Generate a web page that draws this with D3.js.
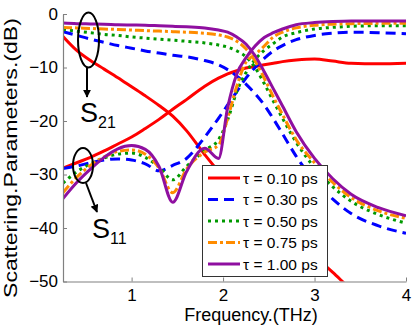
<!DOCTYPE html>
<html>
<head>
<meta charset="utf-8">
<script src="https://cdn.jsdelivr.net/npm/d3@7"></script>
<style>
  html, body { margin: 0; padding: 0; background: #fff; }
  svg { display: block; font-family: "Liberation Sans", Arial, sans-serif; }
</style>
</head>
<body>
<svg id="viz" width="415" height="327"></svg>
<script>
const WIDTH = 415;
const HEIGHT = 327;
const MARGIN = { top: 14, right: 9, bottom: 45.5, left: 63 };

// frequency grid (THz)
const freq = [0.25, 0.4, 0.55, 0.7, 0.85, 1.0, 1.15, 1.3, 1.45, 1.6, 1.8, 1.95, 2.05,
              2.15, 2.25, 2.35, 2.45, 2.55, 2.65, 2.8, 3.0, 3.2, 3.4, 3.7, 4.0];

const tauLabels = ["τ = 0.10 ps", "τ = 0.30 ps", "τ = 0.50 ps", "τ = 0.75 ps", "τ = 1.00 ps"];

// S21 (dB), one array per tau
const s21_010 = [-4.2, -6.8, -8.7, -10.3, -11.9, -13.6, -15.3, -17.1, -19.1, -21.8, -26.3, -29.4, -31.2,
                 -33.0, -34.7, -36.3, -37.8, -39.3, -40.7, -42.7, -45.3, -48.3, -51.5, -55, -58];
const s21_030 = [-3.3, -4.0, -4.7, -5.3, -5.9, -6.4, -6.9, -7.3, -7.7, -8.0, -8.7, -9.5, -10.4,
                 -11.6, -13.1, -14.9, -17.0, -19.6, -22.4, -26.6, -31.2, -34.6, -37.3, -39.6, -41.0];
const s21_050 = [-2.9, -3.2, -3.5, -3.8, -4.0, -4.3, -4.5, -4.7, -4.9, -5.1, -5.4, -5.8, -6.2,
                 -6.9, -8.0, -10.0, -13.0, -16.3, -19.5, -24.0, -28.7, -32.3, -35.0, -37.5, -39.1];
const s21_075 = [-2.5, -2.6, -2.7, -2.8, -2.9, -3.0, -3.1, -3.2, -3.3, -3.4, -3.6, -3.9, -4.3,
                 -5.1, -6.5, -8.8, -12.0, -15.5, -18.8, -23.5, -27.8, -31.5, -34.3, -36.8, -38.2];
const s21_100 = [-1.7, -1.8, -1.85, -1.9, -2.0, -2.05, -2.1, -2.2, -2.3, -2.4, -2.6, -3.0, -3.4,
                 -4.3, -5.6, -7.8, -10.8, -14.0, -17.2, -22.0, -27.0, -30.8, -33.7, -36.2, -37.7];

// S11 (dB), one array per tau
const s11_010 = [-28.8, -27.8, -26.8, -25.6, -24.3, -23.0, -21.4, -19.7, -17.8, -16.0, -13.5, -12.0, -11.2,
                 -10.6, -10.1, -9.8, -9.5, -9.2, -8.9, -8.6, -8.4, -8.8, -9.2, -9.3, -9.2];
const s11_030 = [-28.9, -28.4, -27.8, -27.3, -27.1, -27.3, -28.0, -29.3, -28.3, -27.0, -23.0, -19.5, -17.0,
                 -14.5, -12.0, -10.0, -8.3, -6.9, -5.9, -4.8, -4.0, -3.6, -3.4, -3.5, -3.7];
const s11_050 = [-31.6, -29.5, -28.0, -26.9, -26.2, -26.0, -26.8, -28.6, -31.0, -28.5, -25.5, -23.5, -19.8,
                 -14.5, -11.0, -8.5, -6.8, -5.5, -4.3, -3.5, -2.8, -2.5, -2.3, -2.2, -2.2];
const s11_075 = [-33.4, -30.5, -28.3, -26.7, -25.7, -25.4, -26.2, -28.8, -33.4, -29.0, -25.8, -24.5, -19.5,
                 -13.5, -9.0, -7.6, -6.0, -4.3, -3.4, -2.6, -2.1, -1.9, -1.8, -1.75, -1.75];
const s11_100 = [-34.5, -31.5, -29.0, -26.8, -25.2, -24.6, -25.3, -28.5, -35.2, -29.5, -25.1, -27.0, -17.5,
                 -11.2, -8.2, -6.0, -4.4, -3.5, -2.8, -2.0, -1.6, -1.4, -1.3, -1.3, -1.3];

const xTicks = [1, 2, 3, 4];
const yTicks = [0, -10, -20, -30, -40, -50];

// style per tau (same order as tauLabels)
const styles = [
  { color: "#ff0000", dash: null },
  { color: "#0000ff", dash: "10,6" },
  { color: "#009900", dash: "3,4" },
  { color: "#ff8c00", dash: "9,3,3,3" },
  { color: "#8f0fa0", dash: null }
];

const series = [
  { s21: s21_010, s11: s11_010 },
  { s21: s21_030, s11: s11_030 },
  { s21: s21_050, s11: s11_050 },
  { s21: s21_075, s11: s11_075 },
  { s21: s21_100, s11: s11_100 }
];

const svg = d3.select("#viz");
const innerW = WIDTH - MARGIN.left - MARGIN.right;
const innerH = HEIGHT - MARGIN.top - MARGIN.bottom;

const x = d3.scaleLinear().domain([0.25, 4]).range([MARGIN.left, MARGIN.left + innerW]);
const y = d3.scaleLinear().domain([-50, 0]).range([MARGIN.top + innerH, MARGIN.top]);

svg.append("defs").append("clipPath").attr("id", "plotclip")
  .append("rect")
  .attr("x", MARGIN.left).attr("y", MARGIN.top)
  .attr("width", innerW).attr("height", innerH);

const line = d3.line()
  .x((d, i) => x(freq[i]))
  .y(d => y(d))
  .curve(d3.curveMonotoneX);

const lines = svg.append("g").attr("clip-path", "url(#plotclip)");
series.forEach((s, i) => {
  [s.s21, s.s11].forEach(vals => {
    lines.append("path")
      .attr("d", line(vals))
      .attr("fill", "none")
      .attr("stroke", styles[i].color)
      .attr("stroke-width", 3)
      .attr("stroke-dasharray", styles[i].dash);
  });
});

// axes (only left + bottom, ticks pointing in)
const axisColor = "#808080";
const gx = svg.append("g")
  .attr("transform", `translate(0,${MARGIN.top + innerH})`)
  .call(d3.axisBottom(x).tickValues(xTicks).tickFormat(d3.format("d"))
    .tickSizeInner(-4).tickSizeOuter(0).tickPadding(7));
const gy = svg.append("g")
  .attr("transform", `translate(${MARGIN.left},0)`)
  .call(d3.axisLeft(y).tickValues(yTicks).tickFormat(d3.format("d"))
    .tickSizeInner(-4).tickSizeOuter(0).tickPadding(5));

[gx, gy].forEach(g => {
  g.select(".domain").attr("stroke", axisColor).attr("stroke-width", 1.2);
  g.selectAll(".tick line").attr("stroke", axisColor);
  g.selectAll(".tick text").attr("fill", "#000").attr("font-size", 17)
    .attr("font-family", "Liberation Sans, Arial, sans-serif");
});

// axis titles
svg.append("text")
  .attr("x", 251).attr("y", 321)
  .attr("text-anchor", "middle")
  .attr("font-size", 18)
  .text("Frequency.(THz)");

svg.append("text")
  .attr("transform", "translate(17,158) rotate(-90)")
  .attr("text-anchor", "middle")
  .attr("font-size", 18.5)
  .attr("textLength", 280)
  .attr("lengthAdjust", "spacingAndGlyphs")
  .text("Scattering.Parameters.(dB)");

// legend
const legend = svg.append("g");
legend.append("rect")
  .attr("x", 202.5).attr("y", 165.5)
  .attr("width", 125).attr("height", 111)
  .attr("fill", "#fff").attr("stroke", "#333").attr("stroke-width", 1);

tauLabels.forEach((lab, i) => {
  const ly = 178 + i * 21.5;
  legend.append("line")
    .attr("x1", 208).attr("x2", 240).attr("y1", ly).attr("y2", ly)
    .attr("stroke", styles[i].color).attr("stroke-width", 3)
    .attr("stroke-dasharray", styles[i].dash);
  legend.append("text")
    .attr("x", 243).attr("y", ly + 5.5)
    .attr("font-size", 15.5)
    .text(lab);
});

// annotations
svg.append("defs").append("marker")
  .attr("id", "arrow").attr("viewBox", "0 0 10 10")
  .attr("refX", 9).attr("refY", 5)
  .attr("markerWidth", 4).attr("markerHeight", 4)
  .attr("markerUnits", "strokeWidth")
  .attr("orient", "auto")
  .append("path").attr("d", "M0,0 L10,5 L0,10 Z").attr("fill", "#000");

const notes = svg.append("g").attr("fill", "none").attr("stroke", "#000").attr("stroke-width", 2);
notes.append("ellipse").attr("cx", 88.5).attr("cy", 40).attr("rx", 10.5).attr("ry", 27.5);
notes.append("line").attr("x1", 87).attr("y1", 68).attr("x2", 87).attr("y2", 97)
  .attr("marker-end", "url(#arrow)");
notes.append("ellipse").attr("cx", 83).attr("cy", 165.5).attr("rx", 10).attr("ry", 17.5);
notes.append("line").attr("x1", 86).attr("y1", 183).attr("x2", 97).attr("y2", 212)
  .attr("marker-end", "url(#arrow)");

function sLabel(xp, yp, sub) {
  const t = svg.append("text").attr("x", xp).attr("y", yp).attr("font-size", 27);
  t.append("tspan").text("S");
  t.append("tspan").attr("font-size", 16).attr("dy", 6).text(sub);
}
sLabel(80, 122, "21");
sLabel(92, 238, "11");
</script>
</body>
</html>
